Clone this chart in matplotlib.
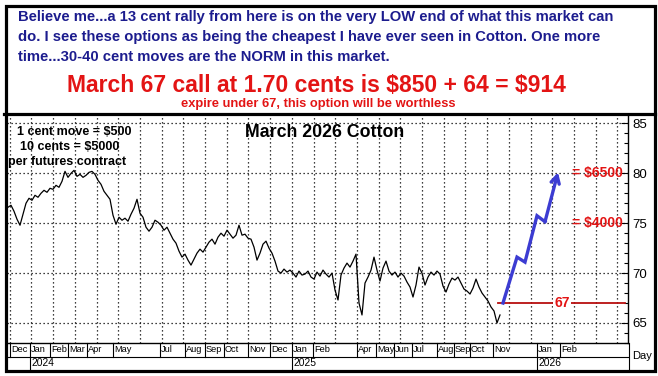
import numpy as np
import matplotlib.pyplot as plt
from matplotlib.patches import Rectangle
from matplotlib.lines import Line2D
from matplotlib import transforms

plt.rcParams["text.parse_math"] = False

W, H = 658, 376


def fx(px):
    return px / W


def fy(py):
    return 1 - py / H


# Daily price path (every 3rd trading day), March 2026 cotton, cents/lb
prices = [
    76.6, 76.8, 76.2, 75.4, 74.8, 75.9, 77.0, 77.5, 77.3, 77.8,
    77.6, 78.0, 78.3, 78.1, 78.5, 78.4, 78.8, 78.6, 79.2, 80.2,
    79.6, 80.0, 80.3, 79.7, 79.9, 79.6, 79.8, 80.1, 80.2, 79.9,
    79.3, 78.9, 78.2, 77.8, 77.4, 75.8, 74.9, 75.6, 75.3, 75.5,
    75.2, 75.9, 76.5, 77.4, 76.0, 75.6, 74.6, 74.2, 74.6, 75.3,
    75.1, 74.8, 74.3, 74.6, 74.0, 73.4, 73.0, 72.2, 71.6, 71.9,
    71.3, 70.8, 71.4, 72.0, 72.4, 72.1, 72.6, 73.1, 73.4, 72.9,
    73.6, 74.0, 73.7, 74.3, 73.9, 73.5, 73.8, 74.8, 73.8, 73.9,
    73.5, 73.4, 72.6, 71.3, 72.0, 72.9, 73.2, 72.5, 72.0, 71.2,
    70.2, 70.0, 70.4, 70.1, 70.3, 70.0, 69.6, 70.2, 69.8, 69.9,
    70.2, 69.6, 69.4, 70.1, 69.7, 70.3, 69.9, 69.6, 70.0, 68.3,
    67.3, 69.8, 70.5, 71.0, 70.6, 71.2, 71.9, 67.0, 65.8, 69.0,
    69.6, 70.3, 71.6, 70.3, 69.2, 70.5, 71.2, 70.2, 69.8, 70.1,
    69.6, 70.0, 69.7, 69.1, 68.6, 67.6, 68.8, 70.6, 70.0, 68.8,
    69.6, 70.1, 69.8, 70.2, 69.9, 68.7, 68.1, 68.9, 69.5, 69.3,
    69.6, 69.0, 68.4, 68.2, 67.9, 68.5, 69.4, 68.6, 68.0, 67.6,
    67.2, 66.6, 66.2, 65.0, 65.8,
]
price_days = np.arange(len(prices)) * 3 + 1

# projected rally (blue arrow)
arrow_days = [496, 510, 518, 530, 538, 551]
arrow_prices = [67.0, 71.6, 71.1, 75.75, 75.15, 80.1]

strike = 67
strike_days = [491, 618]

targets = [80, 75]
target_labels = ["= $6500", "= $4000"]

month_days = [3, 23, 43, 61, 80, 106, 153, 178, 198, 217, 241, 263,
              285, 306, 350, 369, 387, 405, 430, 447, 463, 486, 530, 553]
month_labels = ["Dec", "Jan", "Feb", "Mar", "Apr", "May", "Jul", "Aug", "Sep",
                "Oct", "Nov", "Dec", "Jan", "Feb", "Apr", "May", "Jun", "Jul",
                "Aug", "Sep", "Oct", "Nov", "Jan", "Feb"]
year_days = [23, 285, 530]
year_labels = ["2024", "2025", "2026"]

blue_lines = [
    "Believe me...a 13 cent rally from here is on the very LOW end of what this market can",
    "do. I see these options as being the cheapest I have ever seen in Cotton. One more",
    "time...30-40 cent moves are the NORM in this market.",
]

NAVY = "#1c1c8e"
RED = "#e31414"
DARKRED = "#b80f0f"
ARROW = "#3c3cd2"
SANS = ["Liberation Sans", "DejaVu Sans"]
NARROW = ["Liberation Sans Narrow", "Liberation Sans", "DejaVu Sans"]

fig = plt.figure(figsize=(W / 100, H / 100), dpi=100)
fig.patch.set_facecolor("white")

# ---- header text
for i, line in enumerate(blue_lines):
    fig.text(fx(18), fy(17 + 20 * i), line, family=SANS, weight="bold",
             fontsize=10.6, color=NAVY, ha="left", va="center")
fig.text(fx(316), fy(86), "March 67 call at 1.70 cents is $850 + 64 = $914",
         family=SANS, weight="bold", fontsize=16.5, color=RED,
         ha="center", va="center")
fig.text(fx(318), fy(104), "expire under 67, this option will be worthless",
         family=SANS, weight="bold", fontsize=9.3, color=RED,
         ha="center", va="center")

# ---- chart
ax = fig.add_axes([fx(7), fy(343), fx(621), 228 / H])
ax.set_xlim(0, 621)
ax.set_ylim(62.99, 85.85)

dots = (0, (1, 2.2))
for v in [65, 70, 75, 80, 85]:
    ax.axhline(v, color="black", lw=0.9, ls=dots, zorder=1)
for d in np.arange(2.7, 621, 21.7):
    ax.axvline(d, color="black", lw=0.9, ls=dots, zorder=1)

ax.plot(price_days, prices, color="black", lw=0.9, zorder=3)

ax.plot(strike_days, [strike, strike], color=DARKRED, lw=1.3, zorder=2)
ax.text(555, strike, "67", ha="center", va="center", color=RED,
        family=SANS, weight="bold", fontsize=10, zorder=4,
        bbox=dict(facecolor="white", edgecolor="none", pad=0.6))

ax.plot(arrow_days[:-1], arrow_prices[:-1], color=ARROW, lw=2.4,
        solid_joinstyle="miter", zorder=5)
ax.annotate("", xy=(arrow_days[-1], arrow_prices[-1]),
            xytext=(arrow_days[-2], arrow_prices[-2]),
            arrowprops=dict(arrowstyle="->,head_length=0.55,head_width=0.3",
                            color=ARROW, lw=2.4, shrinkA=0, shrinkB=0),
            zorder=5)

for v, lab in zip(targets, target_labels):
    ax.text(616, v, lab, ha="right", va="center", color=RED, family=SANS,
            weight="bold", fontsize=10, zorder=4)

ax.text(10, 84.1, "1 cent move = $500", ha="left", va="center",
        family=SANS, weight="bold", fontsize=9)
ax.text(13, 82.65, "10 cents = $5000", ha="left", va="center",
        family=SANS, weight="bold", fontsize=9)
ax.text(1, 81.15, "per futures contract", ha="left", va="center",
        family=SANS, weight="bold", fontsize=9)
ax.text(318, 84.1, "March 2026 Cotton", ha="center", va="center",
        family=SANS, weight="bold", fontsize=12.8)

ax.yaxis.tick_right()
ax.set_yticks([65, 70, 75, 80, 85])
ax.set_yticks(np.arange(63, 86, 1), minor=True)
ax.tick_params(axis="y", which="major", direction="in", length=5, width=0.8,
               labelsize=9.5, pad=3)
ax.tick_params(axis="y", which="minor", direction="in", length=3, width=0.8)
ax.set_xticks([])
for lab in ax.get_yticklabels():
    lab.set_family(NARROW)
for s in ["left", "top"]:
    ax.spines[s].set_visible(False)
ax.spines["right"].set_linewidth(1)
ax.spines["bottom"].set_linewidth(1)

# ---- month / year strip below the plot
tr = transforms.blended_transform_factory(ax.transData, ax.transAxes)
row1 = -14 / 228
row2 = -27 / 228
for d, lab in zip(month_days, month_labels):
    ax.add_line(Line2D([d, d], [0, row1], transform=tr, color="black",
                       lw=0.8, clip_on=False))
    ax.text(d + 1.0, row1 / 2, lab, transform=tr, ha="left", va="center",
            family=NARROW, fontsize=6.7, clip_on=False)
for d, lab in zip(year_days, year_labels):
    ax.add_line(Line2D([d, d], [row1, row2], transform=tr, color="black",
                       lw=0.8, clip_on=False))
    ax.text(d + 1.2, (row1 + row2) / 2, lab, transform=tr, ha="left",
            va="center", family=NARROW, fontsize=7.4, clip_on=False)
ax.add_line(Line2D([0, 1], [row1, row1], transform=ax.transAxes,
                   color="black", lw=0.8, clip_on=False))

fig.add_artist(Line2D([fx(628.5), fx(628.5)], [fy(343), fy(371)],
                      color="black", lw=0.8))
fig.text(fx(642), fy(356), "Day", ha="center", va="center", family=NARROW,
         fontsize=8)

# ---- frame
fig.add_artist(Line2D([fx(4), fx(655)], [fy(114), fy(114)], color="black",
                      lw=2.3))
fig.add_artist(Rectangle((fx(5.5), fy(371)), fx(649), (371 - 5.5) / H,
                         transform=fig.transFigure, fill=False,
                         edgecolor="black", lw=2.3))

fig.savefig("out.png", dpi=100)
